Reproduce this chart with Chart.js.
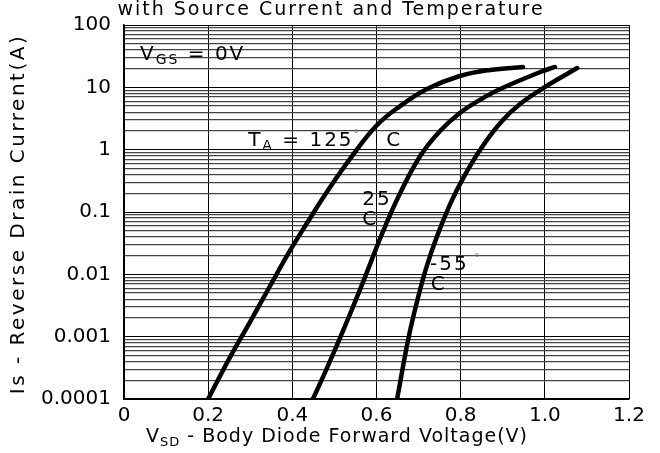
<!DOCTYPE html>
<html>
<head>
<meta charset="utf-8">
<script src="https://cdn.jsdelivr.net/npm/chart.js@4"></script>
<style>
  html, body { margin: 0; padding: 0; background: #fff; }
  #wrap { width: 660px; height: 453px; }
</style>
</head>
<body>
<div id="wrap"><canvas id="chart"></canvas></div>
<script>
// values (V, A)
const volts125 = [0.2, 0.252, 0.299, 0.347, 0.394, 0.435, 0.482, 0.537, 0.599, 0.656, 0.72, 0.798, 0.87, 0.948]
const amps125 = [0.0001, 0.00047, 0.0017, 0.0065, 0.0237, 0.0665, 0.209, 0.71, 2.4, 5.0, 9.4, 15.2, 19, 21.2]

const volts25 = [0.449, 0.478, 0.506, 0.537, 0.568, 0.615, 0.656, 0.704, 0.751, 0.798, 0.846, 0.894, 0.989, 1.024]
const amps25 = [0.0001, 0.00027, 0.00073, 0.0023, 0.0075, 0.048, 0.2, 0.79, 1.99, 3.87, 6.3, 9.4, 17.6, 21.2]

const voltsM55 = [0.649, 0.675, 0.696, 0.718, 0.744, 0.775, 0.806, 0.846, 0.894, 0.941, 1.008, 1.077]
const ampsM55 = [0.0001, 0.00088, 0.0036, 0.0126, 0.041, 0.134, 0.35, 0.99, 2.68, 5.4, 10.9, 20.4]

const xTickLabels = ['0', '0.2', '0.4', '0.6', '0.8', '1.0', '1.2']
const yTickValues = [0.0001, 0.001, 0.01, 0.1, 1, 10, 100]
const yTickLabels = ['0.0001', '0.001', '0.01', '0.1', '1', '10', '100']

const chartTitle = 'with Source Current and Temperature'
const yTitle = 'Is - Reverse Drain Current(A)'
const xTitle = ['V', 'SD', ' - Body Diode Forward Voltage(V)']

// text notes placed in data units
const notes = [
  { x: 0.038, y: 33, parts: [['V', 'n'], ['GS', 's'], [' = 0V', 'n']] },
  { x: 0.295, y: 1.38, parts: [['T', 'n'], ['A', 's'], [' = 125', 'n'], ['°', 'd'], ['   C', 'n']] },
  { x: 0.566, y: 0.155, parts: [['25', 'n']] },
  { x: 0.566, y: 0.074, parts: [['C', 'n']] },
  { x: 0.727, y: 0.014, parts: [['-55', 'n'], [' °', 'd']] },
  { x: 0.729, y: 0.0068, parts: [['C', 'n']] }
]

const FONT = '"DejaVu Sans", sans-serif'

function toPoints(xs, ys) {
  return xs.map((x, i) => ({ x, y: ys[i] }))
}

function partFont(kind, size) {
  if (kind === 's') return Math.round(size * 0.68)
  if (kind === 'd') return Math.round(size * 0.55)
  return size
}

function drawParts(ctx, parts, x, y, size) {
  let cx = x
  parts.forEach(([text, kind]) => {
    ctx.font = `${partFont(kind, size)}px ${FONT}`
    ctx.fillStyle = kind === 'd' ? '#777' : '#000'
    const dy = kind === 's' ? size * 0.28 : kind === 'd' ? -size * 0.35 : 0
    ctx.fillText(text, cx, y + dy)
    cx += ctx.measureText(text).width
  })
  return cx - x
}

function measureParts(ctx, parts, size) {
  let w = 0
  parts.forEach(([text, kind]) => {
    ctx.font = `${partFont(kind, size)}px ${FONT}`
    w += ctx.measureText(text).width
  })
  return w
}

// the source's lettering is wide, so space the letters out a little
function widen(ctx, px) {
  ctx.letterSpacing = px
  ctx.font = '10px serif'
}

const textPlugin = {
  id: 'texts',
  afterDraw(chart) {
    const { ctx, chartArea, scales } = chart
    ctx.save()
    widen(ctx, '2px')
    ctx.textBaseline = 'middle'
    ctx.textAlign = 'left'
    notes.forEach(n => {
      drawParts(ctx, n.parts, scales.x.getPixelForValue(n.x), scales.y.getPixelForValue(n.y), 20)
    })

    // title at the top, partly cut off like the source
    ctx.textBaseline = 'alphabetic'
    ctx.textAlign = 'center'
    ctx.font = `19px ${FONT}`
    ctx.fillStyle = '#000'
    ctx.fillText(chartTitle, 331, 15)

    // x axis title with subscript
    widen(ctx, '1px')
    ctx.textAlign = 'left'
    ctx.textBaseline = 'middle'
    const xParts = [[xTitle[0], 'n'], [xTitle[1], 's'], [xTitle[2], 'n']]
    const w = measureParts(ctx, xParts, 19)
    drawParts(ctx, xParts, 337 - w / 2, 437, 19)

    // y axis title
    widen(ctx, '2.5px')
    ctx.translate(19, (chartArea.top + chartArea.bottom) / 2 + 2)
    ctx.rotate(-Math.PI / 2)
    ctx.textAlign = 'center'
    ctx.textBaseline = 'middle'
    ctx.font = `20px ${FONT}`
    ctx.fillStyle = '#000'
    ctx.fillText(yTitle, 0, 0)
    ctx.restore()
  }
}

const lineStyle = {
  borderColor: '#000',
  borderWidth: 4.5,
  borderCapStyle: 'round',
  pointRadius: 0,
  fill: false,
  tension: 0.4
}

new Chart(document.getElementById('chart'), {
  type: 'line',
  data: {
    datasets: [
      { label: '125 C', data: toPoints(volts125, amps125), ...lineStyle },
      { label: '25 C', data: toPoints(volts25, amps25), ...lineStyle },
      { label: '-55 C', data: toPoints(voltsM55, ampsM55), ...lineStyle }
    ]
  },
  options: {
    responsive: true,
    maintainAspectRatio: false,
    animation: false,
    layout: { padding: { top: 25, right: 31, left: 0, bottom: 0 } },
    plugins: {
      legend: { display: false },
      title: { display: false },
      tooltip: { enabled: false }
    },
    scales: {
      x: {
        type: 'linear',
        min: 0,
        max: 1.2,
        afterFit: scale => { scale.height = 54 },
        afterBuildTicks: scale => {
          scale.ticks = xTickLabels.map(t => ({ value: parseFloat(t) }))
        },
        ticks: {
          padding: 5,
          color: '#000',
          font: { family: FONT, size: 20 },
          maxRotation: 0,
          autoSkip: false,
          callback: (value, index) => xTickLabels[index]
        },
        grid: { color: '#000', lineWidth: 1, drawTicks: false },
        border: { display: true, color: '#000', width: 1.5 }
      },
      y: {
        type: 'logarithmic',
        min: 0.0001,
        max: 100,
        afterFit: scale => { scale.width = 124 },
        afterBuildTicks: scale => {
          const ticks = []
          yTickValues.forEach((v, i) => {
            ticks.push({ value: v, major: true })
            if (i < yTickValues.length - 1) {
              for (let m = 2; m <= 9; m++) ticks.push({ value: v * m, major: false })
            }
          })
          scale.ticks = ticks
        },
        ticks: {
          padding: 13,
          color: '#000',
          font: { family: FONT, size: 20 },
          autoSkip: false,
          callback: value => {
            const i = yTickValues.findIndex(v => Math.abs(v - value) / v < 1e-6)
            return i >= 0 ? yTickLabels[i] : ''
          }
        },
        grid: {
          drawTicks: false,
          color: ctx => (ctx.tick && ctx.tick.major ? '#000' : '#444'),
          lineWidth: ctx => (ctx.tick && ctx.tick.major ? 1 : 1.2)
        },
        border: { display: true, color: '#000', width: 1.5 }
      }
    }
  },
  plugins: [textPlugin]
})
</script>
</body>
</html>
